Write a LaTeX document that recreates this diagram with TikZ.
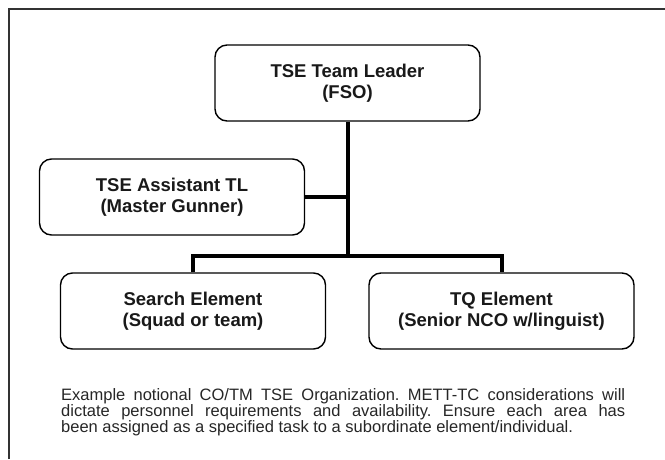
\documentclass[tikz,border=0pt]{standalone}
\usepackage{fontspec}
\setmainfont{Liberation Sans}
\frenchspacing
\begin{document}
\begin{tikzpicture}[x=1pt,y=-1pt,
  orgbox/.style={draw=black, line width=1.4pt, rounded corners=12pt, fill=white,
    minimum width=265pt, minimum height=76pt, inner sep=0pt, align=center,
    font=\bfseries\fontsize{18.5}{21}\selectfont, text=black!90},
  conn/.style={line width=4pt, line join=miter, draw=black},
  frameline/.style={line width=2.6pt, draw=black!80}]
\useasboundingbox (0,0) rectangle (665,459);
% frame (only top and left edges visible)
\coordinate (fbl) at (9,459);
\coordinate (ftl) at (9,9);
\coordinate (ftr) at (665,9);
\draw[frameline] (fbl) -- (ftl) -- (ftr);
% boxes
\node[orgbox] (top) at (347.5,83) {TSE Team Leader\\(FSO)};
\node[orgbox] (asst) at (172,197) {TSE Assistant TL\\(Master Gunner)};
\node[orgbox] (search) at (193,311) {Search Element\\(Squad or team)};
\node[orgbox] (tq) at (501.5,311) {TQ Element\\(Senior NCO w/linguist)};
% connectors
\coordinate (j) at (347.5,256);
\draw[conn] (top.south) -- (j);
\draw[conn] (asst.east) -- (asst.east -| j);
\draw[conn] (search.north) |- (j) -| (tq.north);
% caption
\node[anchor=north west, inner sep=0pt, text width=564pt, align=justify,
  font=\fontsize{16.5}{16}\selectfont, text=black!85] (cap) at (61,388)
  {Example notional CO/TM TSE Organization. METT-TC considerations will\linebreak
   dictate personnel requirements and availability. Ensure each area has\linebreak
   been assigned as a specified task to a subordinate element/individual.};
\end{tikzpicture}
\end{document}
